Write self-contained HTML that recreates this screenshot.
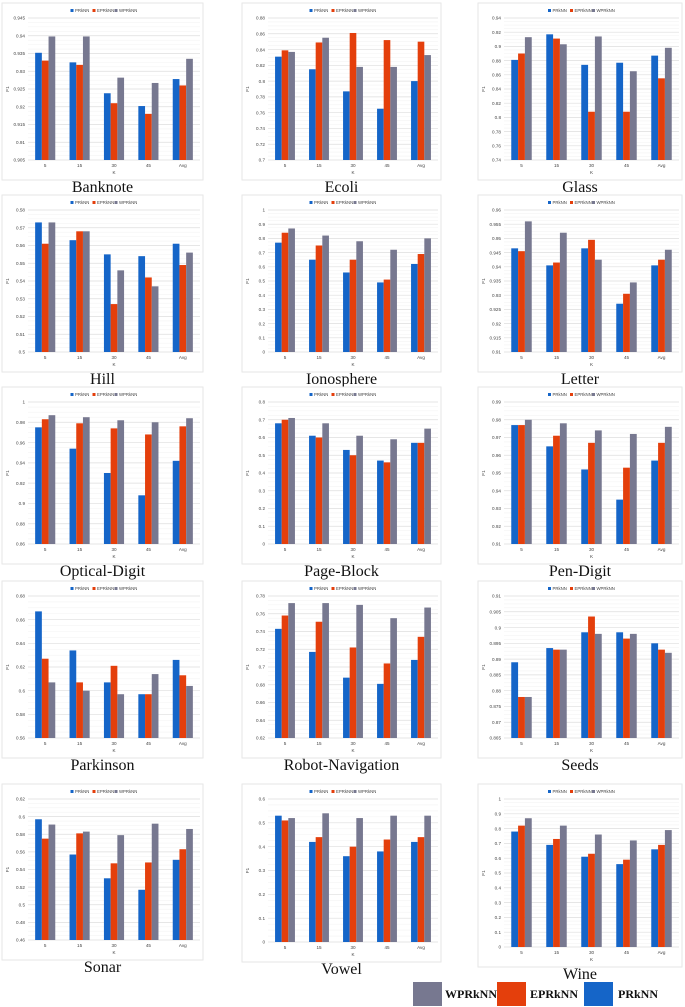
<!DOCTYPE html>
<html><head><meta charset="utf-8">
<style>
html,body{margin:0;padding:0;background:#fff;}
body{width:685px;height:1007px;position:relative;overflow:hidden;font-family:"Liberation Sans",sans-serif;}
svg{position:absolute;left:0;top:0;}
</style></head>
<body>
<svg id="fig" width="685" height="1007"></svg>
<script>
const names=["Banknote","Ecoli","Glass","Hill","Ionosphere","Letter","Optical-Digit","Page-Block","Pen-Digit","Parkinson","Robot-Navigation","Seeds","Sonar","Vowel","Wine"];
const categories=["5","15","30","45","Avg"];
const seriesNames=["PRkNN","EPRkNN","WPRkNN"];
const yMin=[0.905,0.7,0.74,0.5,0,0.91,0.86,0,0.91,0.56,0.62,0.865,0.46,0,0];
const yMax=[0.945,0.88,0.94,0.58,1,0.96,1,0.8,0.99,0.68,0.78,0.91,0.62,0.6,1];
const yStep=[0.005,0.02,0.02,0.01,0.1,0.005,0.02,0.1,0.01,0.02,0.02,0.005,0.02,0.1,0.1];
const prknn=[
[0.9352,0.9325,0.9238,0.9202,0.9278],[0.831,0.815,0.787,0.765,0.800],[0.881,0.917,0.874,0.877,0.887],
[0.573,0.563,0.555,0.554,0.561],[0.77,0.65,0.56,0.49,0.62],[0.9465,0.9405,0.9465,0.927,0.9405],
[0.975,0.954,0.930,0.908,0.942],[0.68,0.61,0.53,0.47,0.57],[0.977,0.965,0.952,0.935,0.957],
[0.667,0.634,0.607,0.597,0.626],[0.743,0.717,0.688,0.681,0.708],[0.889,0.8935,0.8985,0.8985,0.895],
[0.597,0.557,0.530,0.517,0.551],[0.53,0.42,0.36,0.38,0.42],[0.78,0.69,0.61,0.56,0.66]];
const eprknn=[
[0.9330,0.9318,0.9210,0.9180,0.9260],[0.839,0.849,0.861,0.852,0.850],[0.890,0.911,0.808,0.808,0.855],
[0.561,0.568,0.527,0.542,0.549],[0.84,0.75,0.65,0.51,0.69],[0.9455,0.9415,0.9495,0.9305,0.9425],
[0.983,0.979,0.974,0.968,0.976],[0.70,0.60,0.50,0.46,0.57],[0.977,0.971,0.967,0.953,0.967],
[0.627,0.607,0.621,0.597,0.613],[0.758,0.751,0.722,0.704,0.734],[0.878,0.893,0.9035,0.8965,0.893],
[0.575,0.581,0.547,0.548,0.563],[0.51,0.44,0.40,0.43,0.44],[0.82,0.73,0.63,0.59,0.69]];
const wprknn=[
[0.9398,0.9398,0.9282,0.9267,0.9335],[0.837,0.855,0.818,0.818,0.833],[0.913,0.903,0.914,0.865,0.898],
[0.573,0.568,0.546,0.537,0.556],[0.87,0.82,0.78,0.72,0.80],[0.956,0.952,0.9425,0.9345,0.9460],
[0.987,0.985,0.982,0.980,0.984],[0.71,0.68,0.61,0.59,0.65],[0.980,0.978,0.974,0.972,0.976],
[0.607,0.600,0.597,0.614,0.604],[0.772,0.772,0.770,0.755,0.767],[0.878,0.893,0.898,0.898,0.892],
[0.591,0.583,0.579,0.592,0.586],[0.52,0.54,0.52,0.53,0.53],[0.87,0.82,0.76,0.72,0.79]];

const colors=["#1565c8","#e43f0c","#777890"];
const NS="http://www.w3.org/2000/svg";
const svg=document.getElementById('fig');
function mk(tag,attrs,parent){const e=document.createElementNS(NS,tag);for(const k in attrs)e.setAttribute(k,attrs[k]);(parent||svg).appendChild(e);return e;}
const colX=[[2,203],[242,441],[478,682]];
const rowT=[3,195,387,581,784];
const rowBottomOverride=[null,null,null,null,[960,962,967]];
function slug(s){return s.toLowerCase().replace(/[^a-z0-9]+/g,'-');}
for(let i=0;i<15;i++){
  const r=Math.floor(i/3),c=i%3;
  const g=mk('g',{});
  
  
  const fx0=colX[c][0],fx1=colX[c][1],T=rowT[r];
  const fb=rowBottomOverride[r]?rowBottomOverride[r][c]:T+177;
  const frame=mk('rect',{x:fx0,y:T,width:fx1-fx0,height:fb-T,fill:'#fff',stroke:'#e6e6e6','stroke-width':1},g);
  
  
  const px0=fx0+26,px1=fx1-3,pt=T+15,pb=fb-20;
  const yS=v=>pb-(v-yMin[i])/(yMax[i]-yMin[i])*(pb-pt);
  const nT=Math.round((yMax[i]-yMin[i])/yStep[i]);
  const dec=(String(yStep[i]).split('.')[1]||'').length;
  for(let k=0;k<=nT;k++){
    const v=yMin[i]+k*yStep[i],y=yS(v);
    if(k<nT){for(let m=1;m<4;m++){const ym=yS(v+m*yStep[i]/4);mk('line',{x1:px0,x2:px1,y1:ym,y2:ym,stroke:'#f3f3f3','stroke-width':0.6},g);}}
    mk('line',{x1:px0,x2:px1,y1:y,y2:y,stroke:'#dedede','stroke-width':0.7},g);
    const t=mk('text',{x:px0-3,y:y+1.7,'font-size':4.6,'text-anchor':'end',fill:'#444'},g);
    t.textContent=String(parseFloat(v.toFixed(dec)));
    
    
  }
  const band=(px1-px0)/categories.length,bw=band*0.195;
  const data=[prknn[i],eprknn[i],wprknn[i]];
  categories.forEach((cat,j)=>{
    const cx=px0+band*(j+0.5);
    for(let s=0;s<3;s++){
      const y=yS(data[s][j]);
      const b=mk('rect',{x:cx-1.5*bw+s*bw,y:y,width:bw,height:pb-y,fill:colors[s]},g);
      
      
    }
    const t=mk('text',{x:cx,y:pb+7,'font-size':4.6,'text-anchor':'middle',fill:'#444'},g);
    t.textContent=cat;
    
    
  });
  const kx=mk('text',{x:(px0+px1)/2,y:pb+14,'font-size':4.6,'text-anchor':'middle',fill:'#444'},g);
  kx.textContent='K';
  
  
  const yt=mk('text',{x:fx0+7,y:(pt+pb)/2,'font-size':4.6,'text-anchor':'middle',fill:'#444',transform:`rotate(-90 ${fx0+7} ${(pt+pb)/2})`},g);
  yt.textContent='F1';
  
  
  const lx=(fx0+fx1)/2-32;
  for(let s=0;s<3;s++){
    const ox=lx+s*22;
    mk('rect',{x:ox,y:T+6,width:3,height:3,fill:colors[s]},g);
    const t=mk('text',{x:ox+4.5,y:T+8.9,'font-size':4.3,fill:'#444'},g);
    t.textContent=seriesNames[s];
    
    
  }
  const ty=fb+12;
  const tt=mk('text',{x:(fx0+fx1)/2,y:ty,'font-size':16,'text-anchor':'middle',fill:'#111','font-family':'"Liberation Serif",serif'},g);
  tt.textContent=names[i];
  
  
}
const L=mk('g',{});


const items=[["WPRkNN",colors[2],413,445],["EPRkNN",colors[1],497,530],["PRkNN",colors[0],584,618]];
items.forEach(([lab,col,x,tx])=>{
  mk('rect',{x:x,y:982,width:29,height:24,fill:col},L);
  const t=mk('text',{x:tx,y:998,'font-size':12,'font-weight':'bold',fill:'#111','font-family':'"Liberation Serif",serif'},L);
  t.textContent=lab;
  
  
});
</script>
</body></html>
